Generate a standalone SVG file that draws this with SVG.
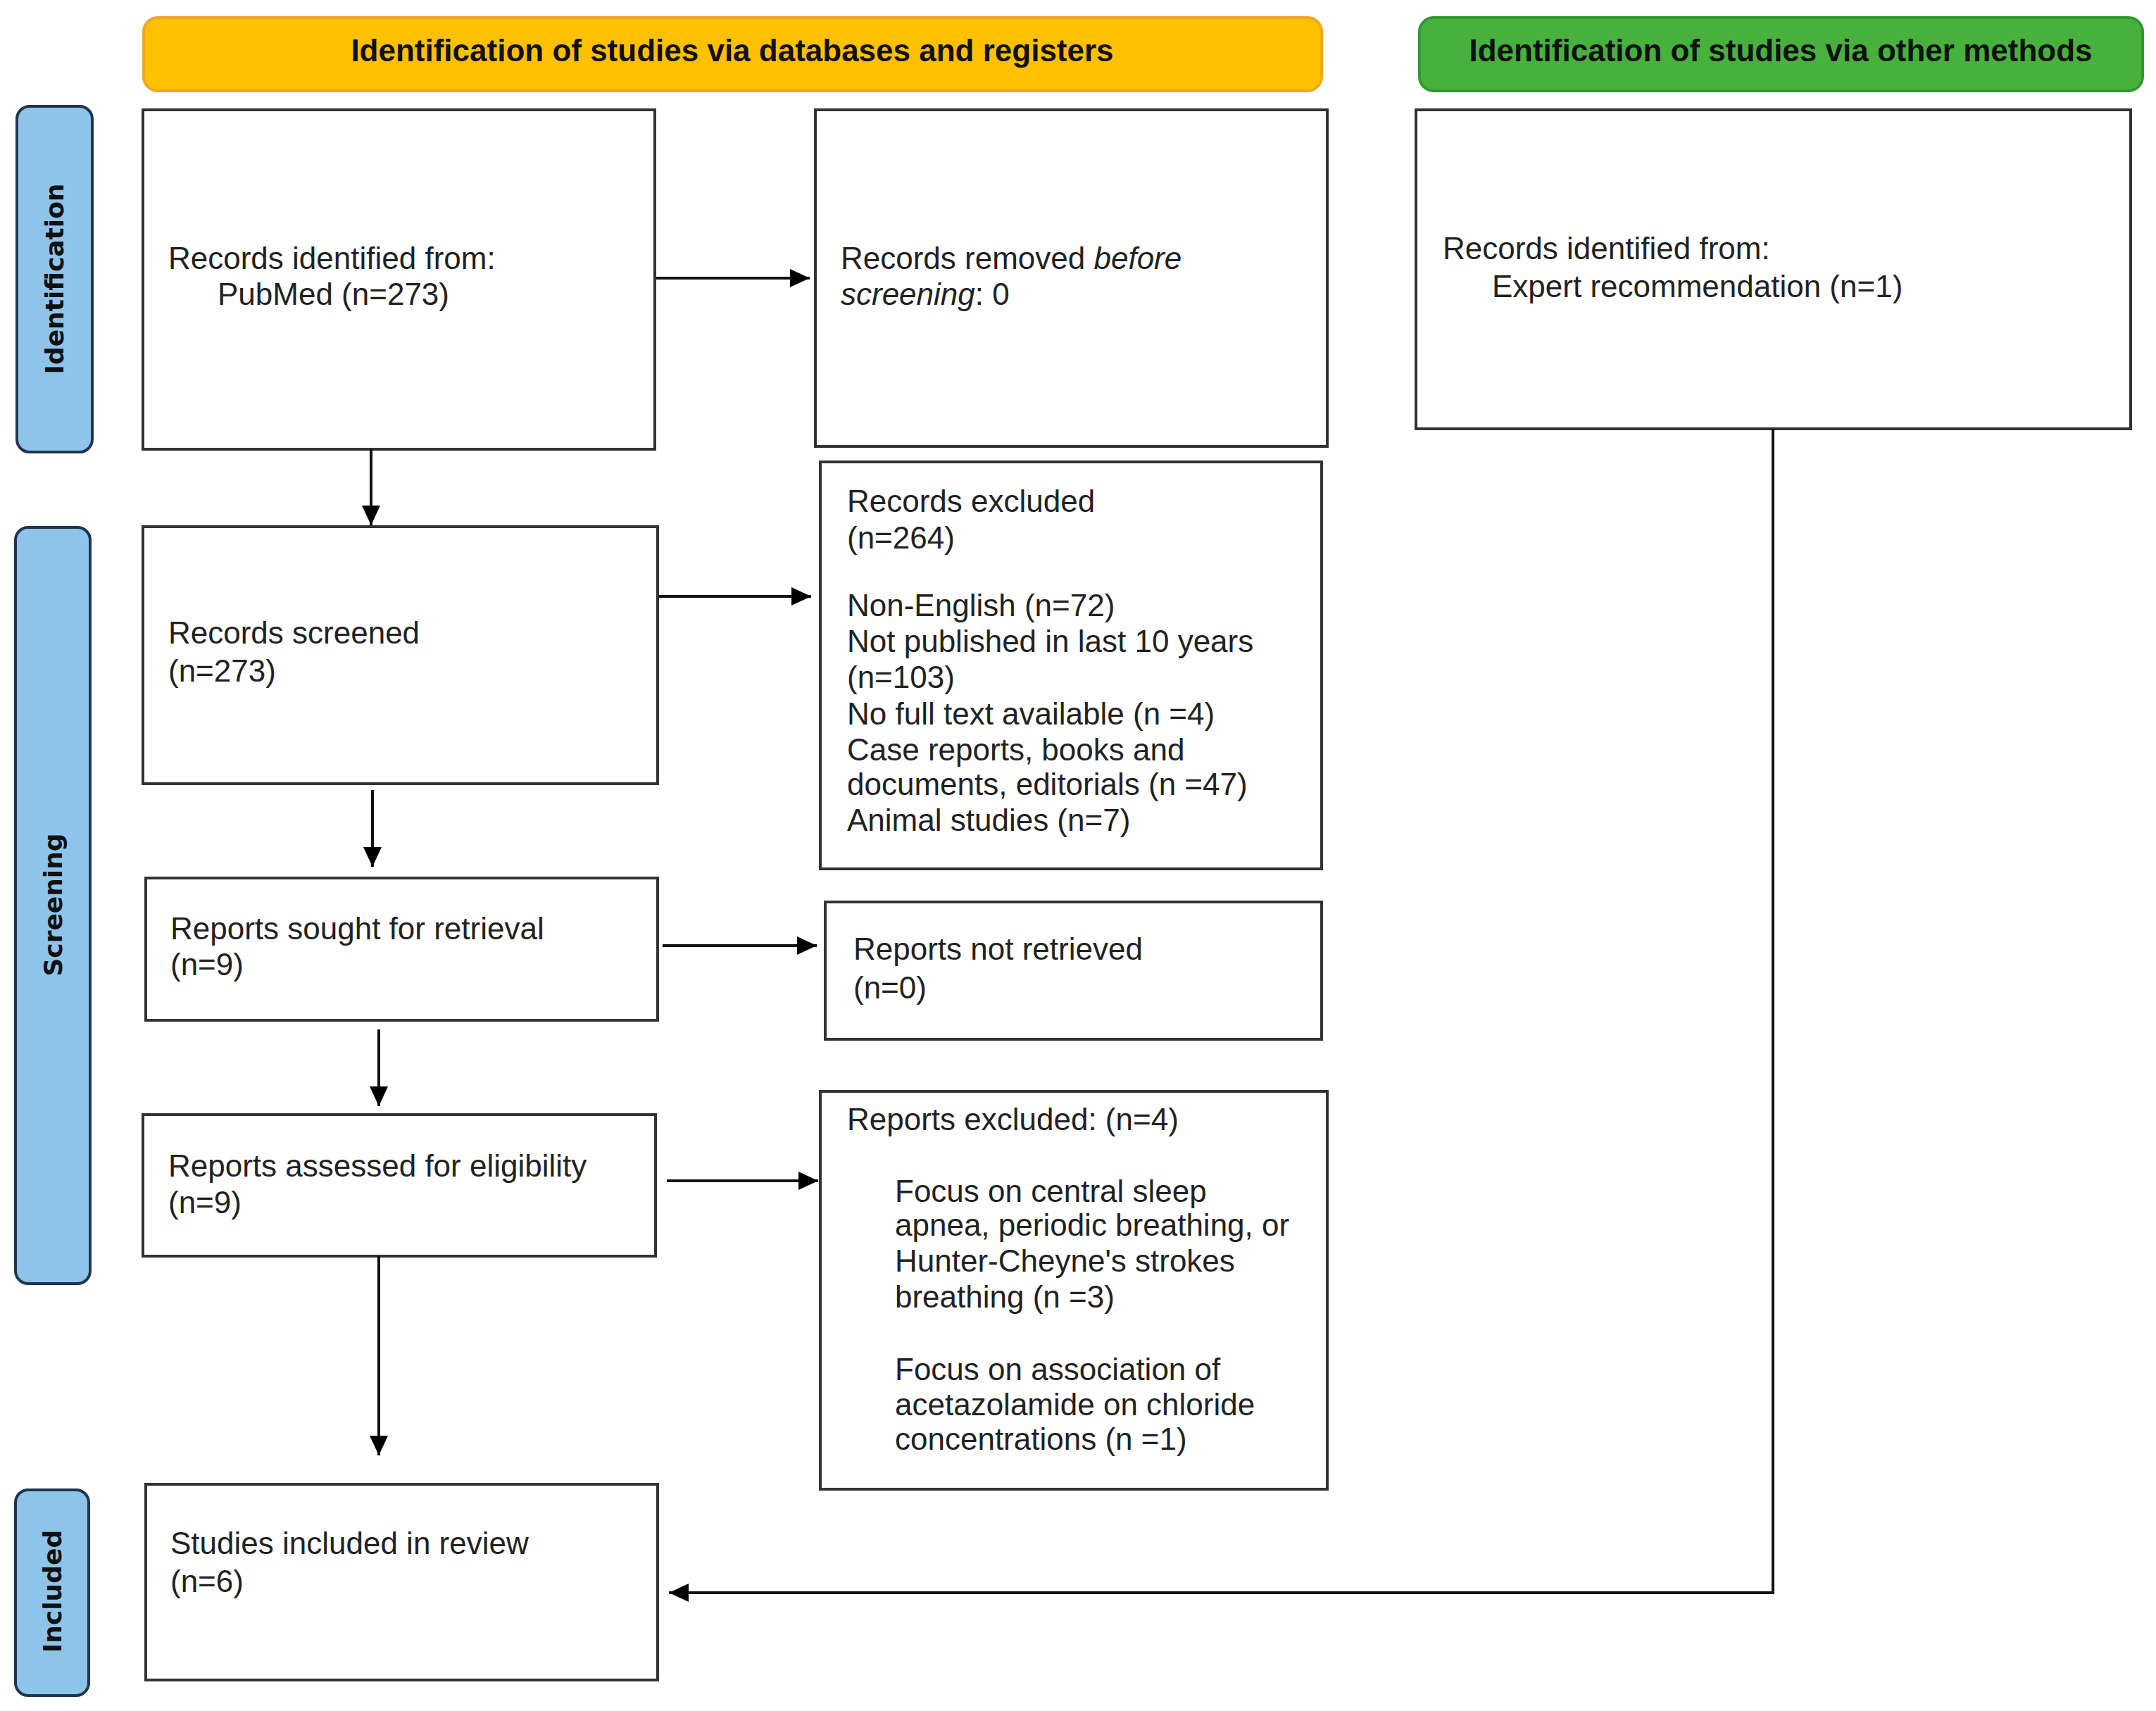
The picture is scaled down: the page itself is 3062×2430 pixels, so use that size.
<svg xmlns="http://www.w3.org/2000/svg" width="3062" height="2430" viewBox="0 0 3062 2430">
<defs>
<style>
.box{fill:#fff;stroke:#333;stroke-width:4}
.t{font-family:"Liberation Sans",Arial,sans-serif;font-size:44px;fill:#222}
.h{font-family:"Liberation Sans",Arial,sans-serif;font-size:44px;font-weight:bold;fill:#111;text-anchor:middle}
.side{fill:#8FC4EA;stroke:#1F3550;stroke-width:4}
.sl{font-family:"DejaVu Sans",Verdana,sans-serif;font-size:36px;font-weight:bold;fill:#111;text-anchor:middle}
.c{fill:none;stroke:#111;stroke-width:4}
</style>
<marker id="ah" markerUnits="userSpaceOnUse" markerWidth="30" markerHeight="28" refX="28" refY="13" orient="auto">
<path d="M0,0 L28,13 L0,26 z" fill="#000"/>
</marker>
</defs>
<rect width="3062" height="2430" fill="#fff"/>

<g id="header-databases">
<rect x="204" y="25" width="1673" height="104" rx="20" fill="#FFC000" stroke="#F2A626" stroke-width="4"/>
<text class="h" x="1040" y="87">Identification of studies via databases and registers</text>
</g>
<g id="header-other">
<rect x="2016" y="25" width="1027" height="104" rx="20" fill="#48B13E" stroke="#2F9A2F" stroke-width="4"/>
<text class="h" x="2529" y="87">Identification of studies via other methods</text>
</g>

<g id="label-identification">
<rect class="side" x="24" y="151" width="107" height="491" rx="18"/>
<text class="sl" transform="translate(90,396) rotate(-90)">Identification</text>
</g>
<g id="label-screening">
<rect class="side" x="22" y="749" width="106" height="1074" rx="18"/>
<text class="sl" transform="translate(88,1285) rotate(-90)">Screening</text>
</g>
<g id="label-included">
<rect class="side" x="22" y="2116" width="104" height="292" rx="18"/>
<text class="sl" transform="translate(87,2260) rotate(-90)">Included</text>
</g>

<g id="records-identified">
<rect class="box" x="203" y="156" width="727" height="482"/>
<text class="t" x="239" y="382">Records identified from:</text>
<text class="t" x="309" y="433">PubMed (n=273)</text>
</g>
<g id="records-removed">
<rect class="box" x="1158" y="156" width="727" height="478"/>
<text class="t" x="1194" y="382">Records removed <tspan font-style="italic">before</tspan></text>
<text class="t" x="1194" y="433"><tspan font-style="italic">screening</tspan>: 0</text>
</g>
<g id="records-other">
<rect class="box" x="2011" y="156" width="1015" height="453"/>
<text class="t" x="2049" y="368">Records identified from:</text>
<text class="t" x="2119" y="422">Expert recommendation (n=1)</text>
</g>
<g id="records-screened">
<rect class="box" x="203" y="748" width="731" height="365"/>
<text class="t" x="239" y="914">Records screened</text>
<text class="t" x="239" y="968">(n=273)</text>
</g>
<g id="records-excluded">
<rect class="box" x="1165" y="656" width="712" height="578"/>
<text class="t" x="1203" y="727">Records excluded</text>
<text class="t" x="1203" y="779">(n=264)</text>
<text class="t" x="1203" y="875">Non-English (n=72)</text>
<text class="t" x="1203" y="926">Not published in last 10 years</text>
<text class="t" x="1203" y="977">(n=103)</text>
<text class="t" x="1203" y="1029">No full text available (n =4)</text>
<text class="t" x="1203" y="1080">Case reports, books and</text>
<text class="t" x="1203" y="1129">documents, editorials (n =47)</text>
<text class="t" x="1203" y="1180">Animal studies (n=7)</text>
</g>
<g id="reports-sought">
<rect class="box" x="207" y="1247" width="727" height="202"/>
<text class="t" x="242" y="1334">Reports sought for retrieval</text>
<text class="t" x="242" y="1385">(n=9)</text>
</g>
<g id="reports-not-retrieved">
<rect class="box" x="1172" y="1281" width="705" height="195"/>
<text class="t" x="1212" y="1363">Reports not retrieved</text>
<text class="t" x="1212" y="1418">(n=0)</text>
</g>
<g id="reports-assessed">
<rect class="box" x="203" y="1583" width="728" height="201"/>
<text class="t" x="239" y="1671">Reports assessed for eligibility</text>
<text class="t" x="239" y="1723">(n=9)</text>
</g>
<g id="reports-excluded">
<rect class="box" x="1165" y="1550" width="720" height="565"/>
<text class="t" x="1203" y="1605">Reports excluded: (n=4)</text>
<text class="t" x="1271" y="1707">Focus on central sleep</text>
<text class="t" x="1271" y="1755">apnea, periodic breathing, or</text>
<text class="t" x="1271" y="1806">Hunter-Cheyne's strokes</text>
<text class="t" x="1271" y="1857">breathing (n =3)</text>
<text class="t" x="1271" y="1960">Focus on association of</text>
<text class="t" x="1271" y="2010">acetazolamide on chloride</text>
<text class="t" x="1271" y="2059">concentrations (n =1)</text>
</g>
<g id="studies-included">
<rect class="box" x="207" y="2108" width="727" height="278"/>
<text class="t" x="242" y="2207">Studies included in review</text>
<text class="t" x="242" y="2261">(n=6)</text>
</g>

<g id="connectors">
<line class="c" x1="932" y1="395" x2="1150" y2="395" marker-end="url(#ah)"/>
<line class="c" x1="527" y1="638" x2="527" y2="746" marker-end="url(#ah)"/>
<line class="c" x1="936" y1="847" x2="1152" y2="847" marker-end="url(#ah)"/>
<line class="c" x1="529" y1="1122" x2="529" y2="1231" marker-end="url(#ah)"/>
<line class="c" x1="941" y1="1343" x2="1160" y2="1343" marker-end="url(#ah)"/>
<line class="c" x1="538" y1="1462" x2="538" y2="1571" marker-end="url(#ah)"/>
<line class="c" x1="947" y1="1677" x2="1162" y2="1677" marker-end="url(#ah)"/>
<line class="c" x1="538" y1="1784" x2="538" y2="2067" marker-end="url(#ah)"/>
<polyline class="c" points="2518,609 2518,2262 950,2262" marker-end="url(#ah)"/>
</g>
</svg>
